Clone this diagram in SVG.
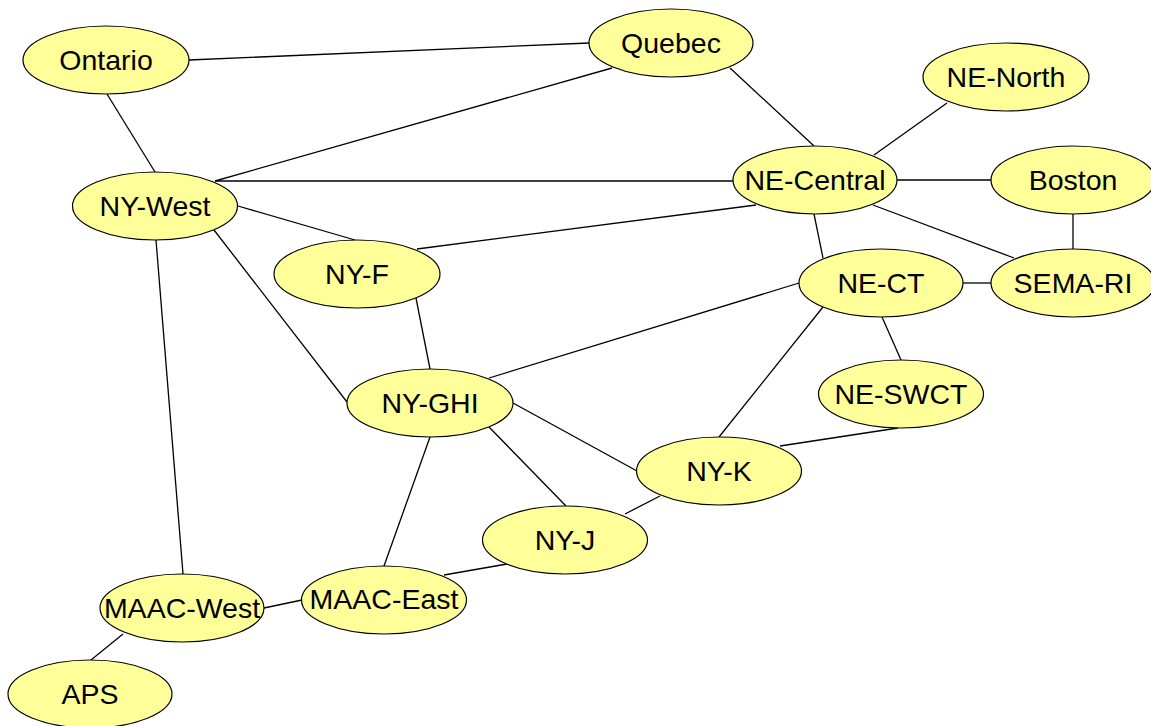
<svg xmlns="http://www.w3.org/2000/svg" width="1151" height="726" viewBox="0 0 1151 726">
<style>
.e{stroke:#000;stroke-width:1.3;fill:none}
.n ellipse{fill:#FFFF99;stroke:#000;stroke-width:1.2}
.n text{font-family:"Liberation Sans",Arial,sans-serif;font-size:28.5px;fill:#000;text-anchor:middle}
</style>
<rect width="1151" height="726" fill="#fff"/>
<g id="connectors">
<line class="e" x1="189" y1="60" x2="589" y2="43"/>
<line class="e" x1="107" y1="94" x2="155" y2="172"/>
<line class="e" x1="215" y1="181" x2="612" y2="68"/>
<line class="e" x1="215" y1="181" x2="733" y2="181"/>
<line class="e" x1="238" y1="206" x2="355" y2="240"/>
<line class="e" x1="214" y1="230" x2="347" y2="402"/>
<line class="e" x1="156" y1="240" x2="183" y2="574"/>
<line class="e" x1="730" y1="68" x2="814" y2="146"/>
<line class="e" x1="947" y1="103" x2="874" y2="155"/>
<line class="e" x1="897" y1="180" x2="991" y2="180"/>
<line class="e" x1="756" y1="205" x2="417" y2="249"/>
<line class="e" x1="873" y1="205" x2="1014" y2="258"/>
<line class="e" x1="814" y1="214" x2="823" y2="258"/>
<line class="e" x1="1073" y1="214" x2="1073" y2="249"/>
<line class="e" x1="963" y1="283" x2="991" y2="283"/>
<line class="e" x1="799" y1="283" x2="489" y2="378"/>
<line class="e" x1="823" y1="307" x2="719" y2="437"/>
<line class="e" x1="882" y1="317" x2="901" y2="360"/>
<line class="e" x1="416" y1="298" x2="430" y2="369"/>
<line class="e" x1="513" y1="403" x2="637" y2="471"/>
<line class="e" x1="489" y1="427" x2="566" y2="506"/>
<line class="e" x1="430" y1="437" x2="384" y2="566"/>
<line class="e" x1="780" y1="446" x2="898" y2="428"/>
<line class="e" x1="660" y1="496" x2="625" y2="514"/>
<line class="e" x1="264" y1="608" x2="302" y2="600"/>
<line class="e" x1="444" y1="575" x2="507" y2="564"/>
<line class="e" x1="123" y1="634" x2="91" y2="660"/>
</g>
<g id="Ontario" class="n"><ellipse cx="106" cy="60" rx="83" ry="34"/><text x="106" y="70">Ontario</text></g>
<g id="Quebec" class="n"><ellipse cx="671" cy="43" rx="82" ry="34"/><text x="671" y="53">Quebec</text></g>
<g id="NE-North" class="n"><ellipse cx="1006" cy="77" rx="83" ry="34"/><text x="1006" y="87">NE-North</text></g>
<g id="NE-Central" class="n"><ellipse cx="815" cy="180" rx="82" ry="34"/><text x="815" y="190">NE-Central</text></g>
<g id="Boston" class="n"><ellipse cx="1073" cy="180" rx="82" ry="34"/><text x="1073" y="190">Boston</text></g>
<g id="NY-West" class="n"><ellipse cx="155" cy="206" rx="82.5" ry="34"/><text x="155" y="216">NY-West</text></g>
<g id="NY-F" class="n"><ellipse cx="357" cy="274" rx="83" ry="34"/><text x="357" y="284">NY-F</text></g>
<g id="NE-CT" class="n"><ellipse cx="881" cy="283" rx="82" ry="34"/><text x="881" y="293">NE-CT</text></g>
<g id="SEMA-RI" class="n"><ellipse cx="1073" cy="283" rx="82" ry="34"/><text x="1073" y="293">SEMA-RI</text></g>
<g id="NY-GHI" class="n"><ellipse cx="430" cy="403" rx="83" ry="34"/><text x="430" y="413">NY-GHI</text></g>
<g id="NE-SWCT" class="n"><ellipse cx="901" cy="394" rx="82.5" ry="34"/><text x="901" y="404">NE-SWCT</text></g>
<g id="NY-K" class="n"><ellipse cx="719" cy="471" rx="82.5" ry="34"/><text x="719" y="481">NY-K</text></g>
<g id="NY-J" class="n"><ellipse cx="565" cy="540" rx="82.5" ry="34"/><text x="565" y="550">NY-J</text></g>
<g id="MAAC-East" class="n"><ellipse cx="384" cy="600" rx="82.5" ry="34"/><text x="384" y="609">MAAC-East</text></g>
<g id="MAAC-West" class="n"><ellipse cx="182" cy="608" rx="82" ry="34"/><text x="182" y="618">MAAC-West</text></g>
<g id="APS" class="n"><ellipse cx="90" cy="694" rx="82" ry="34"/><text x="90" y="704">APS</text></g>
</svg>
